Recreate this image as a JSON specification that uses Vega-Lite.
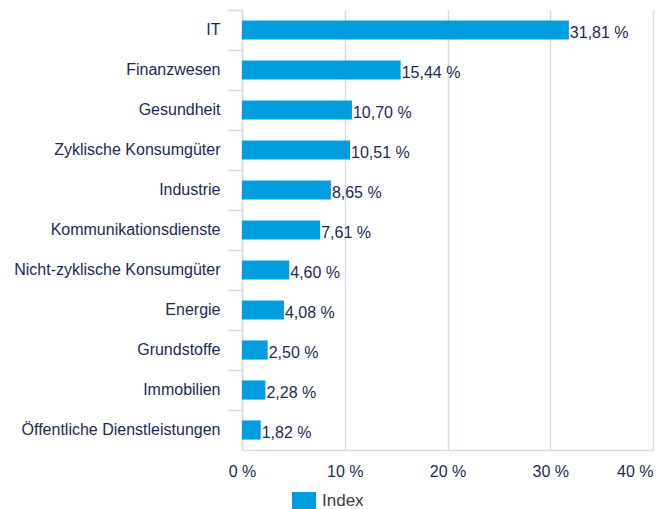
{
  "$schema": "https://vega.github.io/schema/vega-lite/v6.json",
  "width": 411,
  "height": 440,
  "autosize": "none",
  "padding": {"left": 242, "top": 10, "right": 12, "bottom": 59},
  "background": "white",
  "data": {
    "values": [
      {"sector": "IT", "value": 31.81, "label": "31,81 %", "series": "Index"},
      {"sector": "Finanzwesen", "value": 15.44, "label": "15,44 %", "series": "Index"},
      {"sector": "Gesundheit", "value": 10.70, "label": "10,70 %", "series": "Index"},
      {"sector": "Zyklische Konsumgüter", "value": 10.51, "label": "10,51 %", "series": "Index"},
      {"sector": "Industrie", "value": 8.65, "label": "8,65 %", "series": "Index"},
      {"sector": "Kommunikationsdienste", "value": 7.61, "label": "7,61 %", "series": "Index"},
      {"sector": "Nicht-zyklische Konsumgüter", "value": 4.60, "label": "4,60 %", "series": "Index"},
      {"sector": "Energie", "value": 4.08, "label": "4,08 %", "series": "Index"},
      {"sector": "Grundstoffe", "value": 2.50, "label": "2,50 %", "series": "Index"},
      {"sector": "Immobilien", "value": 2.28, "label": "2,28 %", "series": "Index"},
      {"sector": "Öffentliche Dienstleistungen", "value": 1.82, "label": "1,82 %", "series": "Index"}
    ]
  },
  "encoding": {
    "y": {
      "field": "sector",
      "type": "nominal",
      "sort": null,
      "title": null,
      "scale": {"paddingInner": 0, "paddingOuter": 0},
      "axis": {
        "bandPosition": 0,
        "tickExtra": true,
        "tickSize": 14,
        "tickColor": "#d3dce8",
        "tickWidth": 1.5,
        "domainColor": "#d3dce8",
        "domainWidth": 1.5,
        "labelPadding": 8,
        "labelFont": "Liberation Sans",
        "labelFontSize": 16,
        "labelColor": "#1d2b50",
        "labelLimit": 300,
        "grid": false
      }
    },
    "x": {
      "field": "value",
      "type": "quantitative",
      "title": null,
      "scale": {"domain": [0, 40]},
      "axis": {
        "values": [0, 10, 20, 30, 40],
        "labelExpr": "datum.value + ' %'",
        "labelFlush": false,
        "labelAlign": {"condition": {"test": "datum.value == 40", "value": "right"}, "value": "center"},
        "ticks": false,
        "grid": true,
        "gridColor": "#d3dce8",
        "gridWidth": 1.5,
        "domainColor": "#d3dce8",
        "domainWidth": 1.5,
        "labelPadding": 13,
        "labelFont": "Liberation Sans",
        "labelFontSize": 16,
        "labelColor": "#1d2b50"
      }
    }
  },
  "layer": [
    {
      "mark": {"type": "bar", "height": {"band": 0.48}},
      "encoding": {
        "color": {
          "field": "series",
          "type": "nominal",
          "scale": {"range": ["#009ee0"]},
          "legend": {
            "title": null,
            "orient": "none",
            "legendX": 50,
            "legendY": 479,
            "symbolType": "M-1,-0.75H1V0.75H-1Z",
            "symbolSize": 576,
            "symbolStrokeWidth": 0,
            "labelFont": "Liberation Sans",
            "labelFontSize": 17,
            "labelColor": "#3d3d3d",
            "labelOffset": 6
          }
        }
      }
    },
    {
      "mark": {"type": "text", "align": "left", "baseline": "middle", "dx": 1, "dy": 3, "font": "Liberation Sans", "fontSize": 16, "color": "#1d2b50"},
      "encoding": {"text": {"field": "label"}}
    }
  ],
  "config": {"view": {"stroke": null}}
}
